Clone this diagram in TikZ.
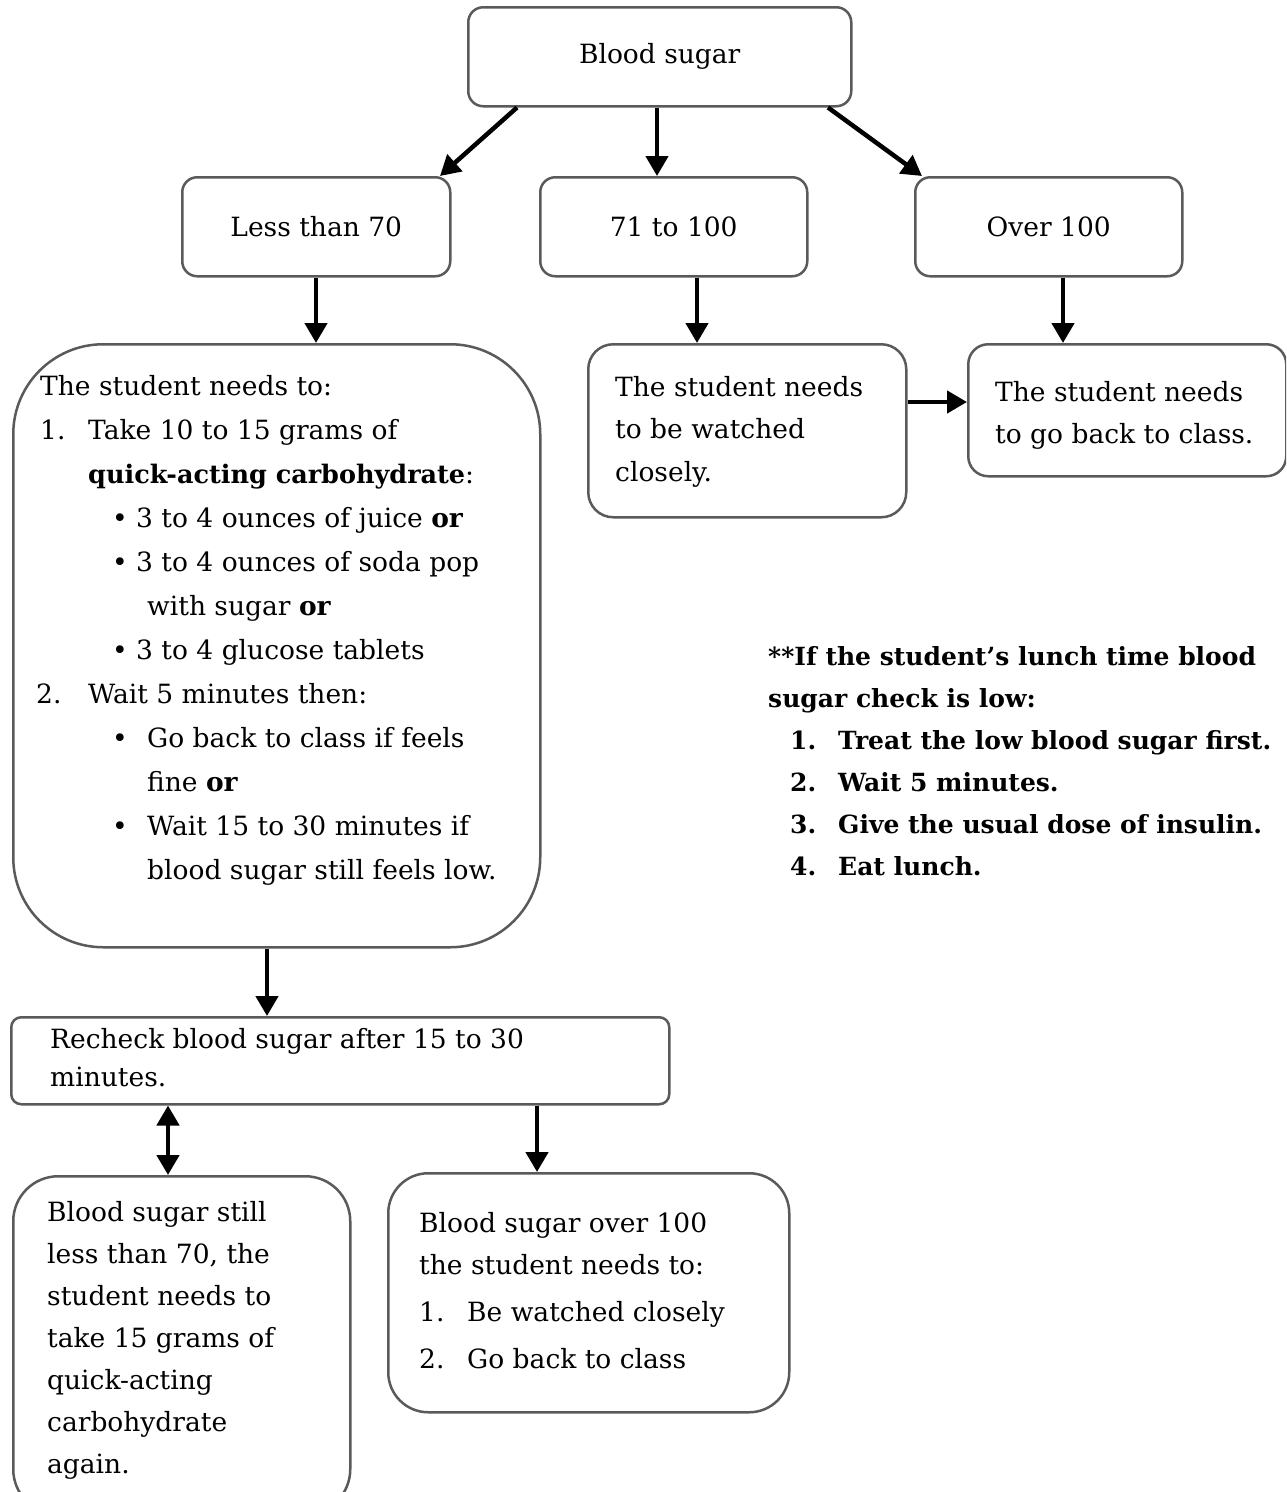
\documentclass[tikz,border=0pt]{standalone}
\usepackage{fontspec}
\setmainfont{DejaVu Serif}
\usetikzlibrary{arrows.meta}
\definecolor{boxgray}{HTML}{5A5A5A}
\tikzset{
  box/.style={draw=boxgray, line width=2.5pt, fill=white, inner sep=0pt},
  lbl/.style={font=\fontsize{26.5}{30}\selectfont},
  txt/.style={inner sep=0pt, align=left, anchor=north west, font=\fontsize{26.5}{44}\selectfont},
  arr/.style={-{Triangle[width=22pt,length=20pt]}, line width=4.5pt},
  darr/.style={{Triangle[width=22pt,length=20pt]}-{Triangle[width=22pt,length=20pt]}, line width=4.5pt},
}
\begin{document}
\begin{tikzpicture}[x=1pt,y=-1pt]
\clip (0,0) rectangle (1286,1492);
\fill[white] (0,0) rectangle (1286,1492);
% top row
\node[box, lbl, rounded corners=15pt, minimum width=383pt, minimum height=99pt, anchor=north west] (top) at (467,6) {Blood sugar};
\node[box, lbl, rounded corners=15pt, minimum width=268pt, minimum height=99pt, anchor=north west] (less) at (181,176) {Less than 70};
\node[box, lbl, rounded corners=15pt, minimum width=267pt, minimum height=99pt, anchor=north west] (mid) at (539,176) {71 to 100};
\node[box, lbl, rounded corners=15pt, minimum width=267pt, minimum height=99pt, anchor=north west] (over) at (914,176) {Over 100};
% second row boxes
\node[box, rounded corners=90pt, minimum width=527pt, minimum height=603pt, anchor=north west] (low) at (12,343) {};
\node[box, rounded corners=25pt, minimum width=318pt, minimum height=173pt, anchor=north west] (watch) at (587,343) {};
\node[box, rounded corners=20pt, minimum width=318pt, minimum height=132pt, anchor=north west] (back) at (967,343) {};
% recheck
\node[box, rounded corners=10pt, minimum width=658pt, minimum height=87pt, anchor=north west] (recheck) at (10,1016) {};
% bottom boxes
\node[box, rounded corners=45pt, minimum width=337pt, minimum height=338pt, anchor=north west] (still) at (12,1175) {};
\node[box, rounded corners=40pt, minimum width=401pt, minimum height=239pt, anchor=north west] (fine) at (387,1172) {};

% texts
\node[txt] (lowtxt) at (40,375) {The student needs to:\\
\makebox[48pt][l]{1.}Take 10 to 15 grams of\\
\hspace*{48pt}{\fontsize{25.5}{44}\selectfont\textbf{quick-acting carbohydrate}}:\\
\hspace*{72pt}\makebox[24pt][l]{•}3 to 4 ounces of juice \textbf{or}\\
\hspace*{72pt}\makebox[24pt][l]{•}3 to 4 ounces of soda pop\\
\hspace*{107pt}with sugar \textbf{or}\\
\hspace*{72pt}\makebox[24pt][l]{•}3 to 4 glucose tablets\\
\hspace*{-4pt}\makebox[52pt][l]{2.}Wait 5 minutes then:\\
\hspace*{72pt}\makebox[35pt][l]{•}Go back to class if feels\\
\hspace*{107pt}fine \textbf{or}\\
\hspace*{72pt}\makebox[35pt][l]{•}Wait 15 to 30 minutes if\\
\hspace*{107pt}blood sugar still feels low.};
\node[txt, font=\fontsize{26.5}{42.5}\selectfont] (watchtxt) at (615,376) {The student needs\\to be watched\\closely.};
\node[txt, font=\fontsize{26.5}{42}\selectfont] (backtxt) at (995,381) {The student needs\\to go back to class.};
\node[txt, font=\fontsize{26.5}{38}\selectfont] (rechecktxt) at (50,1028) {Recheck blood sugar after 15 to 30\\minutes.};
\node[txt, font=\fontsize{26.5}{42}\selectfont] (stilltxt) at (47,1201) {Blood sugar still\\less than 70, the\\student needs to\\take 15 grams of\\quick-acting\\carbohydrate\\again.};
\node[txt, font=\fontsize{26.5}{42}\selectfont] (finetxt) at (419,1212) {Blood sugar over 100\\the student needs to:\\[5pt]
\makebox[48pt][l]{1.}Be watched closely\\[5pt]
\makebox[48pt][l]{2.}Go back to class};
\node[txt, font=\bfseries\fontsize{25}{42}\selectfont] (note) at (768,646) {**If the student’s lunch time blood\\
sugar check is low:\\
\hspace*{22pt}\makebox[48pt][l]{1.}Treat the low blood sugar first.\\
\hspace*{22pt}\makebox[48pt][l]{2.}Wait 5 minutes.\\
\hspace*{22pt}\makebox[48pt][l]{3.}Give the usual dose of insulin.\\
\hspace*{22pt}\makebox[48pt][l]{4.}Eat lunch.};

% arrows
\draw[arr] ([xshift=50pt]top.south west) -- ([xshift=259pt]less.north west);
\draw[arr] ([xshift=190pt]top.south west) -- ([xshift=118pt]mid.north west);
\draw[arr] ([xshift=361pt]top.south west) -- ([xshift=8pt]over.north west);
\draw[arr] ([xshift=135pt]less.south west) -- ([xshift=304pt]low.north west);
\draw[arr] ([xshift=158pt]mid.south west) -- ([xshift=110pt]watch.north west);
\draw[arr] ([xshift=149pt]over.south west) -- ([xshift=96pt]back.north west);
\draw[arr] ([yshift=-59pt]watch.north east) -- ([yshift=-59pt]back.north west);
\draw[arr] ([xshift=255pt]low.south west) -- ([xshift=257pt]recheck.north west);
\draw[darr] ([xshift=158pt]recheck.south west) -- ([xshift=156pt]still.north west);
\draw[arr] ([xshift=527pt]recheck.south west) -- ([xshift=150pt]fine.north west);
\end{tikzpicture}
\end{document}
